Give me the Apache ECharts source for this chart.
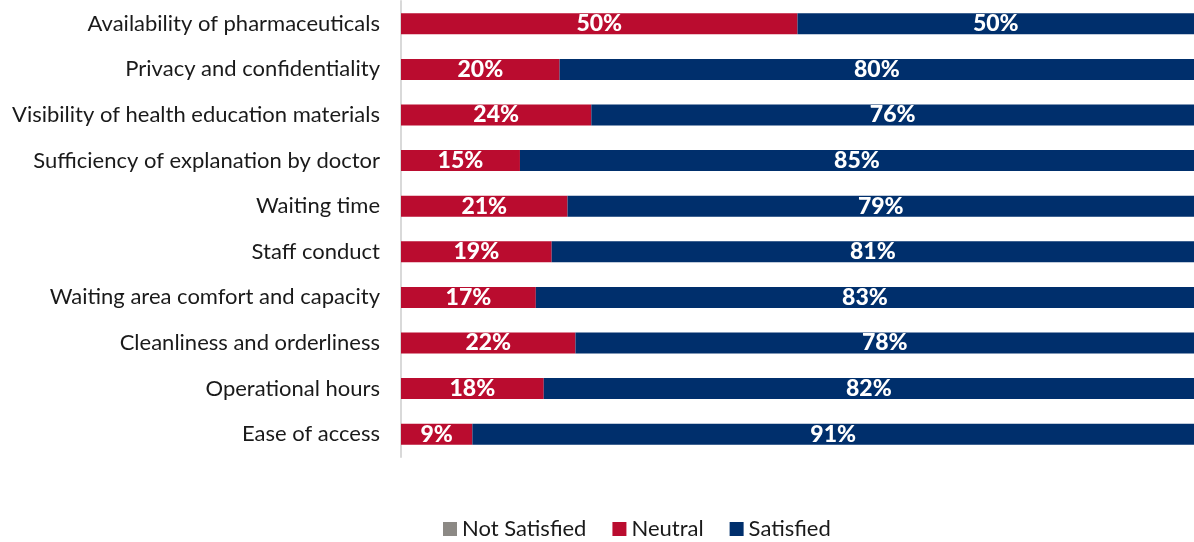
<!DOCTYPE html>
<html>
<head>
<meta charset="utf-8">
<script src="https://cdn.jsdelivr.net/npm/echarts@6/dist/echarts.min.js"></script>
<style>
  html, body { margin: 0; padding: 0; background: #fff; }
  #chart { width: 1194px; height: 542px; }
</style>
</head>
<body>
<div id="chart"></div>
<script>
// Patient satisfaction by service aspect (share of respondents, %)
const categories = [
  'Ease of access',
  'Operational hours',
  'Cleanliness and orderliness',
  'Waiting area comfort and capacity',
  'Staff conduct',
  'Waiting time',
  'Sufficiency of explanation by doctor',
  'Visibility of health education materials',
  'Privacy and confidentiality',
  'Availability of pharmaceuticals'
];
const notSatisfied = [0, 0, 0, 0, 0, 0, 0, 0, 0, 0];
const neutral      = [9, 18, 22, 17, 19, 21, 15, 24, 20, 50];
const satisfied    = [91, 82, 78, 83, 81, 79, 85, 76, 80, 50];

const FONT = 'Lato, "Open Sans", sans-serif';

const barLabel = {
  show: true,
  position: 'inside',
  color: '#fff',
  fontFamily: FONT,
  fontWeight: 900,
  fontSize: 23,
  formatter: p => (p.value > 0 ? p.value + '%' : '')
};

function series(name, data, color) {
  return {
    name: name,
    type: 'bar',
    stack: 'total',
    data: data,
    barCategoryGap: '54%',
    itemStyle: { color: color },
    label: barLabel,
    emphasis: { disabled: true }
  };
}

const chart = echarts.init(document.getElementById('chart'), null, { renderer: 'canvas' });
chart.setOption({
  animation: false,
  grid: { left: 401, right: 0, top: 1, bottom: 85, containLabel: false },
  legend: {
    top: 513,
    left: 438,
    itemWidth: 14,
    itemHeight: 14,
    itemGap: 26,
    icon: 'rect',
    textStyle: { fontFamily: FONT, fontSize: 22, color: '#1a1a1a' },
    data: ['Not Satisfied', 'Neutral', 'Satisfied']
  },
  xAxis: {
    type: 'value',
    min: 0,
    max: 100,
    show: false
  },
  yAxis: {
    type: 'category',
    data: categories,
    axisLine: { show: true, lineStyle: { color: '#d9d9d9', width: 2 } },
    axisTick: { show: false },
    axisLabel: {
      fontFamily: FONT,
      fontSize: 22,
      color: '#1a1a1a',
      margin: 21
    }
  },
  series: [
    series('Not Satisfied', notSatisfied, '#8c8985'),
    series('Neutral', neutral, '#ba0c2f'),
    series('Satisfied', satisfied, '#002f6c')
  ]
});
</script>
</body>
</html>
